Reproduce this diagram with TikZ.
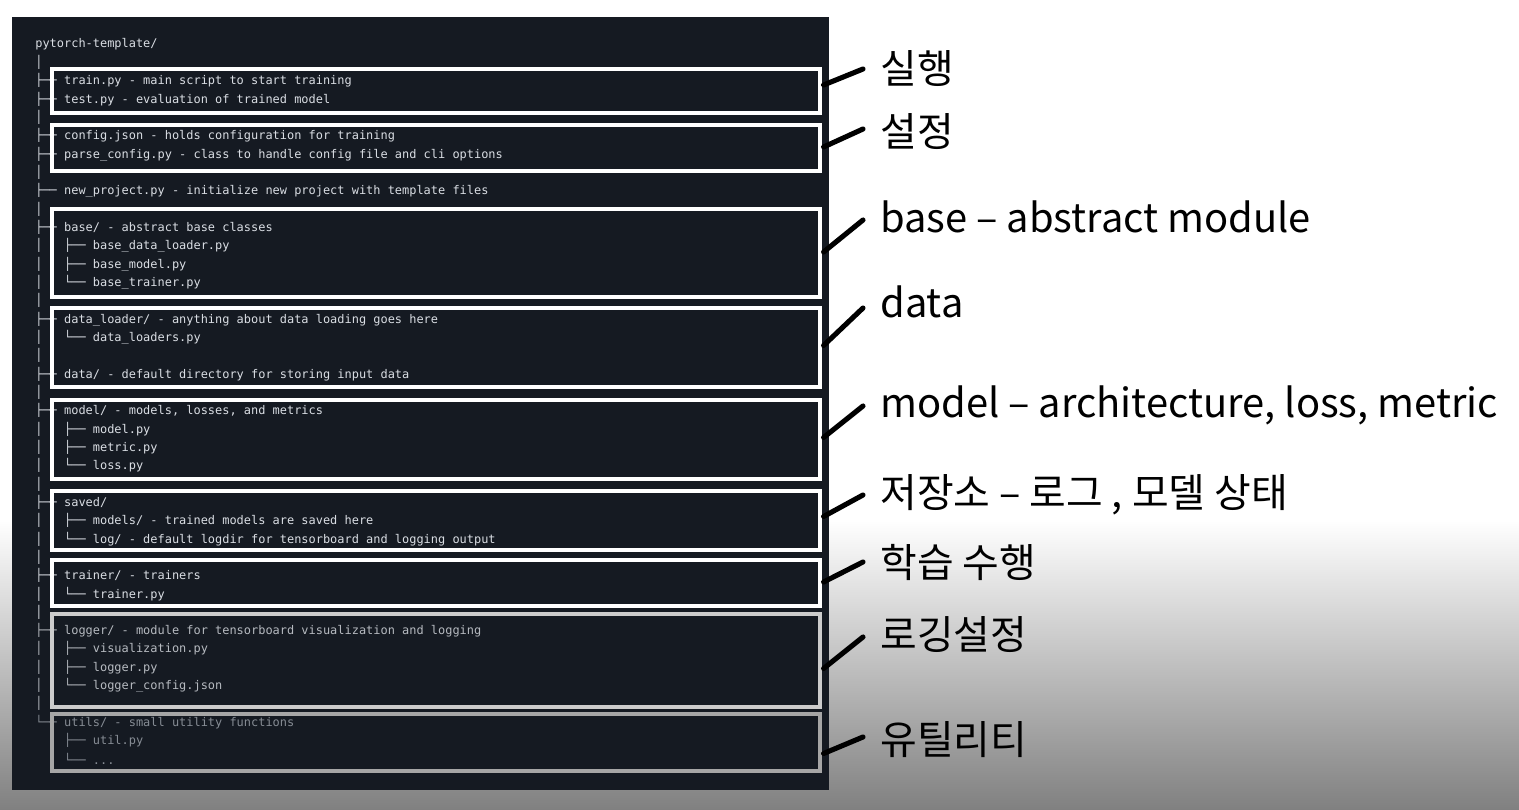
\documentclass[tikz,border=0pt]{standalone}
\usepackage{fontspec}
\setmonofont{DejaVu Sans Mono}
\newfontfamily\krfont{Noto Sans CJK KR}
\usetikzlibrary{calc,fit}
\definecolor{panelbg}{RGB}{21,26,34}
\definecolor{termtext}{RGB}{218,222,228}
\definecolor{fadetext}{RGB}{182,186,192}
\definecolor{dimtext}{RGB}{134,140,148}
\definecolor{fadegray}{RGB}{128,128,128}

\begin{document}
\begin{tikzpicture}[x=0.02cm, y=-0.02cm,
    row/.style={anchor=west, inner sep=0pt, text=termtext, font=\ttfamily\fontsize{6.8}{8}\selectfont},
    grp/.style={draw=white, line width=1.8pt, inner sep=0pt},
    lbl/.style={anchor=base west, inner sep=0pt, font=\krfont\fontsize{22.7}{27}\selectfont},
    lead/.style={line width=2.9pt, line cap=round}
]
\useasboundingbox (0,0) rectangle (1519,810);
\fill[white] (0,0) rectangle (1519,520);
\shade[top color=white, bottom color=fadegray] (0,520) rectangle (1519,810);
\fill[panelbg] (12,17) rectangle (829,790);

% directory tree
\foreach \txt [count=\i] in {{pytorch-template/}, {│},
    {├──~train.py - main script to start training},
    {├──~test.py - evaluation of trained model}, {│},
    {├──~config.json - holds configuration for training},
    {├──~parse\_config.py - class to handle config file and cli options}, {│},
    {├──~new\_project.py - initialize new project with template files}, {│},
    {├──~base/ - abstract base classes},
    {│~~~├──~base\_data\_loader.py},
    {│~~~├──~base\_model.py},
    {│~~~└──~base\_trainer.py}, {│},
    {├──~data\_loader/ - anything about data loading goes here},
    {│~~~└──~data\_loaders.py}, {│},
    {├──~data/ - default directory for storing input data}, {│},
    {├──~model/ - models, losses, and metrics},
    {│~~~├──~model.py},
    {│~~~├──~metric.py},
    {│~~~└──~loss.py}, {│},
    {├──~saved/},
    {│~~~├──~models/ - trained models are saved here},
    {│~~~└──~log/ - default logdir for tensorboard and logging output}, {│},
    {├──~trainer/ - trainers},
    {│~~~└──~trainer.py}, {│}} {
    \node[row] (ln\i) at (35,{44+(\i-1)*18.33}) {\txt};
}
\foreach \txt [count=\i from 33] in {{├──~logger/ - module for tensorboard visualization and logging},
    {│~~~├──~visualization.py},
    {│~~~├──~logger.py},
    {│~~~└──~logger\_config.json}, {│}} {
    \node[row, text=fadetext] (ln\i) at (35,{44+(\i-1)*18.33}) {\txt};
}
\foreach \txt [count=\i from 38] in {{└──~utils/ - small utility functions},
    {~~~~├──~util.py},
    {~~~~└──~{.}{.}{.}}} {
    \node[row, text=dimtext] (ln\i) at (35,{44+(\i-1)*18.33}) {\txt};
}

% highlight boxes
\foreach \n/\ya/\yb/\c in {Train/69/113/white, Config/125/171/white, Base/209/297/white,
    Data/308/387/white, Model/400/479/white, Saved/491/550/white, Trainer/560/606/white,
    Logger/614/707/black!20, Utils/714/771/black!35}
    \node[grp, draw=\c, fit={(52,\ya) (820,\yb)}] (b\n) {};

% labels and leader lines
\foreach \n/\y/\s/\e/\lab in {Train/84/-6/-15/실행, Config/147/-1/-18/설정,
    Base/233/-1/-13/{base – abstract module}, Data/318/-2/-10/data,
    Model/418/-2/-12/{model – architecture, loss, metric},
    Saved/508/-4/-13/{저장소 – 로그 , 모델 상태}, Trainer/578/-1/-16/학습 수행,
    Logger/650/8/-13/로깅설정, Utils/755/11/-18/유틸리티} {
    \node[lbl] (l\n) at (880,\y) {\lab};
    \draw[lead] ($(b\n.east)+(2,\s)$) -- ($(l\n.base west)+(-17,\e)$);
}
\end{tikzpicture}
\end{document}
